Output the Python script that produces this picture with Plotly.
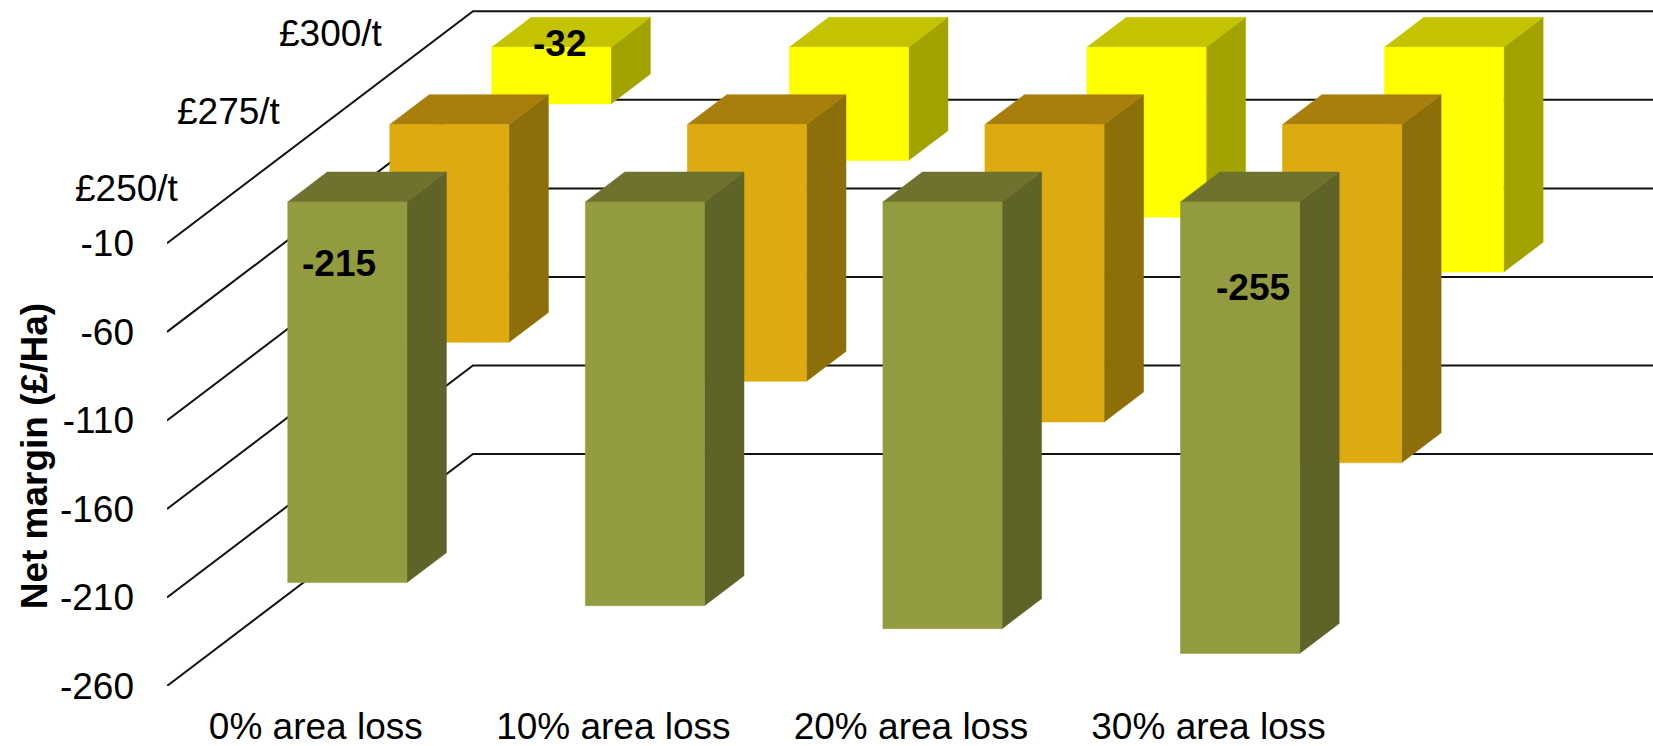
import plotly.graph_objects as go

# ---- data ----
categories = ["0% area loss", "10% area loss", "20% area loss", "30% area loss"]
series_names = ["£250/t", "£275/t", "£300/t"]
values_250 = [-215, -228, -241, -255]
values_275 = [-123, -145, -168, -191]
values_300 = [-32, -64, -96, -127]
y_ticks = [-10, -60, -110, -160, -210, -260]

# ---- geometry of the oblique 3D look ----
W, H = 1653, 746
PX_L, PX_BOTTOM = 166.9, 685.7
PX_PER_CAT, PX_PER_VAL = 297.6, 1.77
DX = 102 / PX_PER_CAT     # horizontal shift per series, category units
DY = 77.3 / PX_PER_VAL    # vertical shift per series, value units
BAR_W = 119.2 / PX_PER_CAT
BAR_D = 0.387
BASE = 0

styles = [
    dict(front="#929B3F", side="#5F6328", top="#6E722E"),
    dict(front="#DDAA10", side="#8D6F0A", top="#A87F0C"),
    dict(front="#FFFF00", side="#A3A300", top="#C3C300"),
]
series_values = [values_250, values_275, values_300]


def proj(x, depth, v):
    return x + depth * DX, v + depth * DY


def poly_trace(polys, color):
    xs, ys = [], []
    for poly in polys:
        for p in poly:
            xs.append(p[0])
            ys.append(p[1])
        xs.append(xs[-len(poly)])
        ys.append(ys[-len(poly)])
        xs.append(None)
        ys.append(None)
    return go.Scatter(x=xs, y=ys, mode="lines", fill="toself", fillcolor=color,
                      line=dict(width=0.5, color=color), hoverinfo="skip", showlegend=False)


fig = go.Figure()

# walls
n_series = len(series_names)
x_max = (W - PX_L) / PX_PER_CAT
for t in y_ticks:
    bx, by = proj(0, n_series, t)
    fig.add_trace(go.Scatter(x=[0, bx, x_max], y=[t, by, by], mode="lines",
                             line=dict(color="#111111", width=2),
                             hoverinfo="skip", showlegend=False))

# bars, back to front
for s in reversed(range(n_series)):
    d0 = s + (1 - BAR_D) / 2
    d1 = d0 + BAR_D
    fronts, sides, tops = [], [], []
    for c, v in enumerate(series_values[s]):
        x1 = c + 0.5 + 119.8 / PX_PER_CAT / 2
        x0 = x1 - BAR_W
        fronts.append([proj(x0, d0, BASE), proj(x1, d0, BASE), proj(x1, d0, v), proj(x0, d0, v)])
        sides.append([proj(x1, d0, BASE), proj(x1, d1, BASE), proj(x1, d1, v), proj(x1, d0, v)])
        tops.append([proj(x0, d0, BASE), proj(x0, d1, BASE), proj(x1, d1, BASE), proj(x1, d0, BASE)])
    fig.add_trace(poly_trace(sides, styles[s]["side"]))
    fig.add_trace(poly_trace(tops, styles[s]["top"]))
    fig.add_trace(poly_trace(fronts, styles[s]["front"]))

FONT = "Liberation Sans, Arial, sans-serif"
FS = 37

# data labels: (series, category, pixel shift from the bar's top centre)
labelled = [(2, 0, 8, 4), (0, 0, -8, -62), (0, 3, 13, -86)]
for s, c, xs, ys in labelled:
    d0 = s + (1 - BAR_D) / 2
    px, py = proj(c + 0.5, d0, BASE)
    fig.add_annotation(x=px, y=py, text=f"<b>{series_values[s][c]}</b>", showarrow=False,
                       xshift=xs, yshift=ys, font=dict(family=FONT, size=FS, color="black"))

# series names along the depth axis
for s, name in enumerate(series_names):
    px, py = proj(0, s + 0.5, y_ticks[0])
    fig.add_annotation(x=px, y=py, text=name, showarrow=False, xanchor="right", xshift=-37,
                       yshift=16, font=dict(family=FONT, size=FS, color="black"))

fig.update_layout(
    width=W, height=H, autosize=False,
    paper_bgcolor="white", plot_bgcolor="white",
    margin=dict(l=PX_L, r=0, t=0, b=H - PX_BOTTOM, pad=0),
    font=dict(family=FONT, size=FS, color="black"),
    showlegend=False,
    xaxis=dict(range=[0, x_max], tickmode="array", tickvals=[i + 0.5 for i in range(len(categories))],
               ticktext=categories, showgrid=False, zeroline=False, showline=False, ticks="",
               ticklabelstandoff=15, automargin=False, tickfont=dict(family=FONT, size=FS)),
    yaxis=dict(range=[-260, -260 + PX_BOTTOM / PX_PER_VAL], tickmode="array", tickvals=y_ticks,
               ticktext=[str(t) for t in y_ticks], showgrid=False, zeroline=False, showline=False, ticks="",
               ticklabelstandoff=32, automargin=False, tickfont=dict(family=FONT, size=FS),
               ),
)
# axis title
fig.add_annotation(xref="paper", yref="paper", x=0, y=(PX_BOTTOM - 456) / PX_BOTTOM,
                   text="<b>Net margin (£/Ha)</b>", textangle=-90, showarrow=False,
                   xanchor="center", yanchor="middle", xshift=34 - PX_L,
                   font=dict(family=FONT, size=37, color="black"))

fig.write_html("out.html", config=dict(displayModeBar=False),
               post_script="document.body.style.margin='0';document.documentElement.style.overflow='hidden';")
